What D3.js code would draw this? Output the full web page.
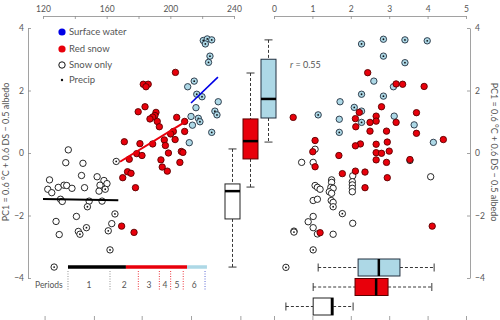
<!DOCTYPE html>
<html><head><meta charset="utf-8">
<script src="https://cdn.jsdelivr.net/npm/d3@7"></script>
<style>body{margin:0;background:#fff}svg{display:block;font-family:Lato,"Open Sans",sans-serif}</style>
</head><body><svg id="c" width="500" height="320"></svg>
<script>
// ---- axes ticks ----
const dayTicks=[120,140,160,180,200,220,240];
const dayLabels=[120,160,200,240];
const monthTicks=[121,152,182,213,244];
const precipTicks=[0,1,2,3,4,5];
const pcTicks=[-4,-2,0,2,4];

// ---- left panel: PC1 vs day ----
const waterDay=[220.7,223.2,226.0,222.0,224.9,224.0,215.0,210.9,216.6,219.9,230.1,216.1,228.0,229.3,213.0,217.6,218.6,213.9,226.0,211.9];
const waterPC1=[3.60,3.65,3.62,3.49,3.10,2.90,2.30,2.12,1.88,1.80,1.64,1.45,1.34,1.22,1.17,1.11,1.00,0.89,0.66,0.33];
const waterDayDot=[1,1,1,1,1,1,1,0,1,1,0,0,1,1,0,1,1,0,1,0];
const redDay=[203.2,183.0,186.1,184.7,184.1,179.8,191.0,190.3,188.9,187.2,191.8,193.1,204.0,209.0,201.9,200.2,209.0,196.2,203.0,171.1,180.9,188.9,196.9,206.9,207.9,198.8,178.9,182.2,174.2,194.1,206.0,194.9,198.1,173.1,175.3,170.1,178.1,169.4,177.2];
const redPC1=[2.58,2.20,2.20,2.12,1.48,1.32,1.30,1.20,1.15,1.09,1.01,0.84,1.14,1.01,0.69,0.61,0.69,0.42,0.43,0.36,0.30,0.29,0.24,0.05,0.02,0.00,-0.02,-0.08,-0.20,-0.22,-0.30,-0.45,-0.58,-0.60,-0.65,-0.79,-1.11,-2.34,-2.54];
const snowDay=[135.9,134.3,145.1,144.2,124.1,154.0,158.3,160.2,155.8,123.0,125.5,129.6,133.2,134.9,138.2,146.1,155.2,159.1,131.0,132.1,149.0,147.9,157.1,128.2,141.0,130.2,142.2,143.2,147.3,161.0,163.2,165.2,162.1,127.0,166.0];
const snowPC1=[0.10,-0.31,-0.33,-0.72,-0.86,-0.76,-0.88,-0.98,-1.03,-1.16,-1.27,-1.10,-1.03,-1.04,-1.13,-1.11,-1.22,-1.16,-1.48,-1.55,-1.54,-1.72,-1.54,-2.19,-2.03,-2.61,-2.51,-2.60,-2.39,-2.49,-2.26,-1.95,-3.10,-3.65,-0.27];
const snowDayDot=[0,0,0,0,0,0,0,0,0,0,0,0,0,0,0,0,0,1,1,0,0,1,0,0,0,0,0,1,1,1,0,1,1,1,1];

// fit lines
const snowFitDay=[120,167.3], snowFitPC1=[-1.47,-1.51];
const redFitDay=[168.4,210.3], redFitPC1=[-0.28,1.03];
const waterFitDay=[213,229.9], waterFitPC1=[1.6,2.43];

// periods
const periodBounds=[135.7,162.1,179.9,193.1,200.2,208.1,221.8];
const periodBoundKind=['snow','snow','red','red','red','red','water'];
const periodLabels=['1','2','3','4','5','6'];
const statusStart=[135.7,172.1,210.5], statusEnd=[172.1,210.5,223], statusKind=['snow','red','water'];

// ---- right panel: PC1 vs precip ----
const waterPrecip=[2.28,2.85,3.41,3.99,2.85,3.41,2.60,3.11,2.28,2.85,1.72,2.09,2.28,1.15,1.70,2.28,3.13,3.65,1.70,4.15];
const waterPC1R=[3.49,3.64,3.62,3.59,3.10,2.89,2.30,2.12,1.88,1.82,1.64,1.46,1.34,1.22,1.08,0.98,1.18,0.90,0.66,0.34];
const waterPrecipDot=[1,1,1,1,1,1,0,0,1,1,0,1,1,1,0,1,0,0,1,0];
const redPrecip=[2.44,3.18,3.35,3.91,2.80,2.22,0.50,2.12,2.66,2.66,2.50,3.18,3.71,2.13,2.50,2.93,3.71,1.07,2.25,2.12,2.66,2.95,4.41,1.01,1.69,2.66,2.66,2.80,3.00,2.93,3.54,1.07,1.78,2.12,2.37,2.95,2.37,1.20,4.12];
const redPC1R=[2.57,2.21,2.20,2.13,1.48,1.30,1.14,1.10,1.18,1.02,0.98,0.98,1.29,0.84,0.70,0.70,0.63,0.40,0.29,0.23,0.28,0.35,0.43,0.04,-0.08,0.01,-0.22,-0.01,0.06,-0.30,-0.21,-0.44,-0.66,-0.58,-0.61,-0.79,-1.11,-2.55,-2.34];
const snowPrecip=[0.72,1.02,1.07,2.05,4.08,1.50,1.50,1.07,1.13,1.20,1.48,1.54,1.44,1.50,2.04,2.04,2.04,2.04,1.02,1.13,1.49,1.54,1.54,1.78,1.02,2.05,0.89,1.02,0.52,0.52,1.13,1.54,1.02,0.31,3.54];
const snowPC1R=[-0.30,-0.30,0.12,-0.73,-0.76,-0.86,-0.94,-1.04,-1.10,-1.16,-1.10,-1.13,-1.24,-1.29,-0.92,-1.02,-1.13,-1.24,-1.52,-1.48,-1.52,-1.58,-1.72,-1.94,-2.03,-2.25,-2.20,-2.39,-2.50,-2.53,-2.59,-2.60,-3.10,-3.66,-0.24];
const snowPrecipDot=[0,0,0,0,0,0,0,0,0,0,0,0,0,0,0,0,0,0,0,0,0,0,1,1,0,0,0,0,1,1,0,0,1,1,1];

// ---- box plots ----
const boxKinds=['snow','red','water'];
const vMin=[-3.65,-1.09,0.35], vQ1=[-2.11,-0.19,1.12], vMed=[-1.22,0.38,1.73], vQ3=[-0.99,1.09,3.0], vMax=[0.13,2.56,3.62];
const hMin=[0.31,1.02,1.15], hQ1=[1.02,2.11,2.19], hMed=[1.51,2.66,2.73], hQ3=[1.54,2.97,3.28], hMax=[2.06,4.11,4.17];

const legendLabels=['Surface water','Red snow','Snow only','Precip'];
const rText='0.55';

// ---- styles ----
const fill={snow:'#fff',red:'#e8000b',water:'#add8e6'};
const stroke={snow:'#111',red:'#5a0000',water:'#223040'};
const lineCol={snow:'#000',red:'#e8000b',water:'#0000e6'};
const periodCol={snow:'#777',red:'#e8000b',water:'#3344cc'};
const txt='#555', axc='#8a8a8a';

const svg=d3.select('#c');
const xL=d3.scaleLinear().domain([120,240]).range([43,234]);
const xR=d3.scaleLinear().domain([0,5]).range([274,466]);
const y=d3.scaleLinear().domain([-4,4]).range([278,28]);

function styleAxis(g){
  g.selectAll('path').attr('stroke',axc).attr('stroke-width',0.8);
  g.selectAll('line').attr('stroke',axc).attr('stroke-width',0.8);
  g.selectAll('text').attr('fill',txt).style('font-size','8.5px').style('font-family','Lato,"Open Sans",sans-serif');
}
// top axes
svg.append('g').attr('transform','translate(0,16)')
  .call(d3.axisTop(xL).tickValues(dayTicks).tickSizeInner(-3).tickSizeOuter(0).tickPadding(4)
    .tickFormat(d=>dayLabels.includes(d)?d:''))
  .call(styleAxis);
svg.append('g').attr('transform','translate(0,16)')
  .call(d3.axisTop(xR).tickValues(precipTicks).tickSizeInner(-3).tickSizeOuter(0).tickPadding(4).tickFormat(d3.format('d')))
  .call(styleAxis);
// y axes
svg.append('g').attr('transform','translate(28,0)')
  .call(d3.axisLeft(y).tickValues(pcTicks).tickSizeInner(-3).tickSizeOuter(0).tickPadding(4).tickFormat(d3.format('d')))
  .call(styleAxis);
svg.append('g').attr('transform','translate(470,0)')
  .call(d3.axisRight(y).tickValues(pcTicks).tickSizeInner(-3).tickSizeOuter(0).tickPadding(5).tickFormat(d3.format('d')))
  .call(styleAxis);
// bottom axes (labels fall outside the picture)
const gb1=svg.append('g').attr('transform','translate(0,316)')
  .call(d3.axisBottom(xL).tickValues(monthTicks).tickSizeInner(5).tickSizeOuter(0).tickFormat(''));
gb1.call(styleAxis); gb1.select('path').remove();
const gb2=svg.append('g').attr('transform','translate(0,316)')
  .call(d3.axisBottom(xR).tickValues(precipTicks).tickSizeInner(5).tickSizeOuter(0).tickFormat(''));
gb2.call(styleAxis); gb2.select('path').remove();

// y labels
const ylab='PC1 = 0.6 °C + 0.6 DS − 0.5 albedo';
svg.append('text').attr('transform','translate(9,152) rotate(-90)').attr('text-anchor','middle')
  .attr('fill',txt).style('font-size','9px').text(ylab);
svg.append('text').attr('transform','translate(491,152) rotate(90)').attr('text-anchor','middle')
  .attr('fill',txt).style('font-size','9px').text(ylab);

// status bar & periods
const pg=svg.append('g');
statusKind.forEach((k,i)=>{
  pg.append('line').attr('x1',xL(statusStart[i])).attr('x2',xL(statusEnd[i]))
    .attr('y1',267).attr('y2',267).attr('stroke',k==='snow'?'#000':k==='red'?'#e8000b':'#add8e6').attr('stroke-width',3.5);
});
periodBounds.forEach((b,i)=>{
  pg.append('line').attr('x1',xL(b)).attr('x2',xL(b)).attr('y1',271).attr('y2',290)
    .attr('stroke',periodCol[periodBoundKind[i]]).attr('stroke-width',0.8).attr('stroke-dasharray','1,1.5');
});
periodLabels.forEach((l,i)=>{
  pg.append('text').attr('x',xL((periodBounds[i]+periodBounds[i+1])/2)).attr('y',288)
    .attr('text-anchor','middle').attr('fill',txt).style('font-size','8.5px').text(l);
});
pg.append('text').attr('x',35).attr('y',288).attr('fill',txt).style('font-size','8.5px').text('Periods');

// points helper
function drawPts(xs,ys,dots,kind,xs_){
  const g=svg.append('g');
  xs.forEach((v,i)=>{
    g.append('circle').attr('cx',xs_(v)).attr('cy',y(ys[i])).attr('r',3.2)
      .attr('fill',fill[kind]).attr('stroke',stroke[kind]).attr('stroke-width',0.9);
    if(dots&&dots[i]) g.append('circle').attr('cx',xs_(v)).attr('cy',y(ys[i])).attr('r',0.9).attr('fill','#111');
  });
}
drawPts(snowDay,snowPC1,snowDayDot,'snow',xL);
drawPts(waterDay,waterPC1,waterDayDot,'water',xL);
drawPts(redDay,redPC1,null,'red',xL);
drawPts(snowPrecip,snowPC1R,snowPrecipDot,'snow',xR);
drawPts(waterPrecip,waterPC1R,waterPrecipDot,'water',xR);
drawPts(redPrecip,redPC1R,null,'red',xR);

// fit lines
[[snowFitDay,snowFitPC1,'snow'],[redFitDay,redFitPC1,'red'],[waterFitDay,waterFitPC1,'water']].forEach(([xs,ys,k])=>{
  svg.append('line').attr('x1',xL(xs[0])).attr('x2',xL(xs[1])).attr('y1',y(ys[0])).attr('y2',y(ys[1]))
    .attr('stroke',lineCol[k]).attr('stroke-width',k==='water'?1.6:2);
});

// vertical boxes
const vCx=[232.5,250.5,268.5], bw=15, cap=8;
boxKinds.forEach((k,i)=>{
  const g=svg.append('g'), cx=vCx[i];
  g.append('line').attr('x1',cx).attr('x2',cx).attr('y1',y(vMax[i])).attr('y2',y(vQ3[i])).attr('stroke','#222').attr('stroke-dasharray','3,2').attr('stroke-width',0.9);
  g.append('line').attr('x1',cx).attr('x2',cx).attr('y1',y(vQ1[i])).attr('y2',y(vMin[i])).attr('stroke','#222').attr('stroke-dasharray','3,2').attr('stroke-width',0.9);
  [vMin[i],vMax[i]].forEach(v=>g.append('line').attr('x1',cx-cap/2).attr('x2',cx+cap/2).attr('y1',y(v)).attr('y2',y(v)).attr('stroke','#222').attr('stroke-width',0.9));
  g.append('rect').attr('x',cx-bw/2).attr('width',bw).attr('y',y(vQ3[i])).attr('height',y(vQ1[i])-y(vQ3[i]))
    .attr('fill',fill[k]).attr('stroke',stroke[k]==='#111'?'#222':stroke[k]).attr('stroke-width',1);
  g.append('line').attr('x1',cx-bw/2).attr('x2',cx+bw/2).attr('y1',y(vMed[i])).attr('y2',y(vMed[i])).attr('stroke','#000').attr('stroke-width',2.5);
});
// horizontal boxes
const hCy=[306.5,287,267.5], bh=17;
boxKinds.forEach((k,i)=>{
  const g=svg.append('g'), cy=hCy[i];
  g.append('line').attr('y1',cy).attr('y2',cy).attr('x1',xR(hMin[i])).attr('x2',xR(hQ1[i])).attr('stroke','#222').attr('stroke-dasharray','3,2').attr('stroke-width',0.9);
  g.append('line').attr('y1',cy).attr('y2',cy).attr('x1',xR(hQ3[i])).attr('x2',xR(hMax[i])).attr('stroke','#222').attr('stroke-dasharray','3,2').attr('stroke-width',0.9);
  [hMin[i],hMax[i]].forEach(v=>g.append('line').attr('y1',cy-cap/2).attr('y2',cy+cap/2).attr('x1',xR(v)).attr('x2',xR(v)).attr('stroke','#222').attr('stroke-width',0.9));
  g.append('rect').attr('y',cy-bh/2).attr('height',bh).attr('x',xR(hQ1[i])).attr('width',xR(hQ3[i])-xR(hQ1[i]))
    .attr('fill',fill[k]).attr('stroke',stroke[k]==='#111'?'#222':stroke[k]).attr('stroke-width',1);
  g.append('line').attr('y1',cy-bh/2).attr('y2',cy+bh/2).attr('x1',xR(hMed[i])).attr('x2',xR(hMed[i])).attr('stroke','#000').attr('stroke-width',2.5);
});

// r text
const rt=svg.append('text').attr('x',290).attr('y',68).attr('fill',txt).style('font-size','9px');
rt.append('tspan').style('font-style','italic').text('r');
rt.append('tspan').text(' = '+rText);

// legend
const lg=svg.append('g');
const legY=[32,49,65,80];
legendLabels.forEach((l,i)=>{
  if(i===0) lg.append('circle').attr('cx',62).attr('cy',legY[i]).attr('r',3.6).attr('fill','#0000e6');
  if(i===1) lg.append('circle').attr('cx',62).attr('cy',legY[i]).attr('r',3.6).attr('fill','#e8000b');
  if(i===2) lg.append('circle').attr('cx',62).attr('cy',legY[i]).attr('r',3.2).attr('fill','#fff').attr('stroke','#111').attr('stroke-width',1);
  if(i===3) lg.append('circle').attr('cx',62).attr('cy',legY[i]).attr('r',1.2).attr('fill','#111');
  lg.append('text').attr('x',69).attr('y',legY[i]+3.3).attr('fill',txt).style('font-size','9.5px').text(l);
});
</script></body></html>
